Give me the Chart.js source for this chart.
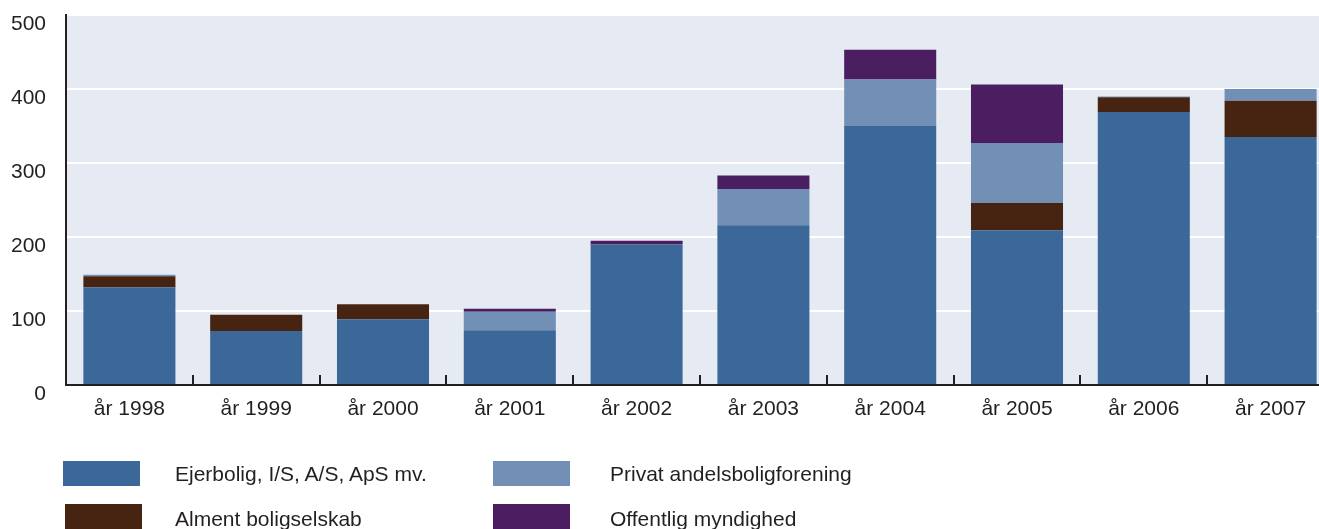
<!DOCTYPE html>
<html>
<head>
<meta charset="utf-8">
<script src="https://cdn.jsdelivr.net/npm/chart.js@4/dist/chart.umd.min.js"></script>
<style>
  html, body { margin: 0; padding: 0; background: #ffffff; overflow: hidden; }
  #wrap { position: relative; width: 1319px; height: 529px; overflow: hidden; }
  #chart { position: absolute; left: 0; top: 0; }
  .leg { position: absolute; font-family: "Liberation Sans", Arial, sans-serif; font-size: 21px; color: #231f20; white-space: nowrap; }
  .box { position: absolute; width: 77px; height: 25px; }
  .txt { position: absolute; line-height: 26px; }
</style>
</head>
<body>
<div id="wrap">
  <canvas id="chart" width="1334" height="529"></canvas>
  <div id="legend"></div>
</div>
<script>
// Categories and y-axis tick values
const years = ["år 1998", "år 1999", "år 2000", "år 2001", "år 2002", "år 2003", "år 2004", "år 2005", "år 2006", "år 2007"];
const yTicks = [0, 100, 200, 300, 400, 500];

// Series values (stacked, bottom to top)
const ejerbolig     = [132, 73, 89, 74, 190, 216, 350, 209, 369, 335];
const alment        = [15, 22, 20, 0, 0, 0, 0, 37, 20, 49];
const privat        = [2, 0, 0, 25, 0, 49, 63, 81, 1, 16];
const offentlig     = [0, 0, 0, 4, 5, 18, 40, 79, 0, 0];

const seriesNames = ["Ejerbolig, I/S, A/S, ApS mv.", "Alment boligselskab", "Privat andelsboligforening", "Offentlig myndighed"];
const seriesColors = ["#3b6898", "#472312", "#7290b5", "#4a1e60"];

const textColor = "#231f20";
const fontFamily = "'Liberation Sans', Arial, sans-serif";

// Chart area background
const areaBg = {
  id: 'areaBg',
  beforeDraw(chart) {
    const { ctx, chartArea: a } = chart;
    ctx.save();
    ctx.fillStyle = '#e6ebf3';
    ctx.fillRect(a.left, a.top, a.right - a.left, a.bottom - a.top);
    ctx.restore();
  }
};

// Short inward ticks between categories on the x axis
const innerTicks = {
  id: 'innerTicks',
  afterDraw(chart) {
    const { ctx, chartArea: a } = chart;
    const xs = chart.scales.x;
    ctx.save();
    ctx.strokeStyle = textColor;
    ctx.lineWidth = 2;
    for (let i = 1; i < years.length; i++) {
      const x = Math.round((xs.getPixelForValue(i - 1) + xs.getPixelForValue(i)) / 2);
      ctx.beginPath();
      ctx.moveTo(x, a.bottom);
      ctx.lineTo(x, a.bottom - 10);
      ctx.stroke();
    }
    ctx.restore();
  }
};

const seriesData = [ejerbolig, alment, privat, offentlig];

const chart = new Chart(document.getElementById('chart'), {
  type: 'bar',
  data: {
    labels: years,
    datasets: seriesData.map((d, i) => ({
      label: seriesNames[i],
      data: d,
      backgroundColor: seriesColors[i],
      borderWidth: 0,
      categoryPercentage: 1,
      barPercentage: 0.726
    }))
  },
  options: {
    responsive: false,
    animation: false,
    devicePixelRatio: 1,
    layout: { padding: { top: 15, right: 0, bottom: 99, left: 0 } },
    plugins: {
      legend: { display: false },
      tooltip: { enabled: false }
    },
    scales: {
      x: {
        stacked: true,
        grid: { display: false, drawTicks: false },
        border: { display: true, color: textColor, width: 2 },
        ticks: { color: textColor, font: { family: fontFamily, size: 21 }, padding: 12, maxRotation: 0 },
        afterFit(scale) { scale.height = 45; }
      },
      y: {
        stacked: true,
        min: 0,
        max: 500,
        afterBuildTicks(scale) { scale.ticks = yTicks.map(v => ({ value: v })); },
        grid: {
          color: ctx => (ctx.tick && ctx.tick.value === 0) ? 'rgba(0,0,0,0)' : '#ffffff',
          lineWidth: 2,
          drawTicks: false
        },
        border: { display: true, color: textColor, width: 2 },
        ticks: {
          color: textColor,
          font: { family: fontFamily, size: 21 },
          padding: 20,
          labelOffset: 9
        },
        afterFit(scale) {
          scale.width = 66;
          scale.paddingTop = 0;
          scale.paddingBottom = 0;
        }
      }
    }
  },
  plugins: [areaBg, innerTicks]
});

// Two-column legend built from the chart's datasets
const legendPos = [
  { box: [63, 461], txt: [175, 461] },
  { box: [65, 504], txt: [175, 506] },
  { box: [493, 461], txt: [610, 461] },
  { box: [493, 504], txt: [610, 506] }
];
const legendEl = document.getElementById('legend');
chart.data.datasets.forEach((ds, i) => {
  const p = legendPos[i];
  const b = document.createElement('div');
  b.className = 'leg box';
  b.style.left = p.box[0] + 'px';
  b.style.top = p.box[1] + 'px';
  b.style.background = ds.backgroundColor;
  legendEl.appendChild(b);
  const t = document.createElement('div');
  t.className = 'leg txt';
  t.style.left = p.txt[0] + 'px';
  t.style.top = p.txt[1] + 'px';
  t.textContent = ds.label;
  legendEl.appendChild(t);
});
</script>
</body>
</html>
